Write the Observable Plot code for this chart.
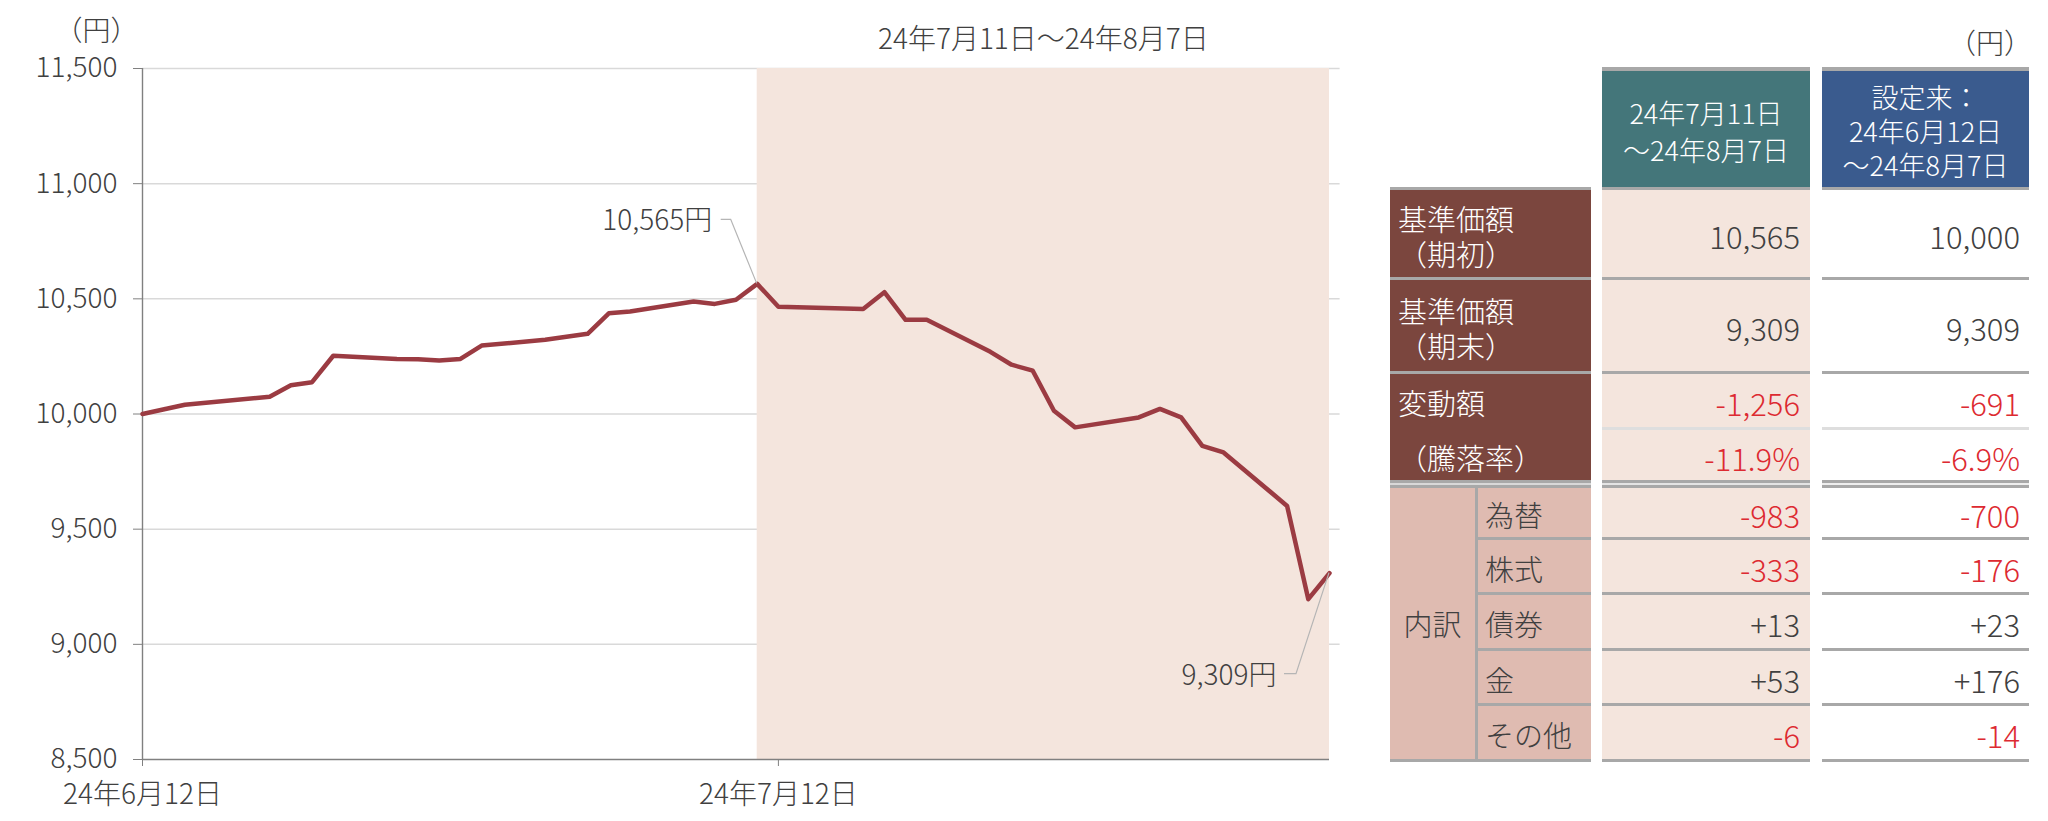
<!DOCTYPE html>
<html>
<head>
<meta charset="utf-8">
<script src="https://cdn.jsdelivr.net/npm/d3@7"></script>
<script src="https://cdn.jsdelivr.net/npm/@observablehq/plot@0.6"></script>
<style>
html, body { margin: 0; padding: 0; background: #fff; width: 2048px; height: 821px; overflow: hidden; }
body { position: relative; font-family: "Noto Sans CJK JP", "Noto Sans", sans-serif; font-weight: 300; color: #404040; }
#chart { position: absolute; left: 0; top: 0; }
#chart svg { font-weight: 300; }
#table { position: absolute; left: 0; top: 0; width: 2048px; height: 821px; }
.b { position: absolute; box-sizing: border-box; }
.t { position: absolute; box-sizing: border-box; display: flex; flex-direction: column; justify-content: center; }
.t > div { white-space: pre; line-height: 35px; }
</style>
</head>
<body>
<div id="chart"></div>
<div id="table"></div>
<script>
// ---------------- data ----------------
const dates = [
  "2024-06-12","2024-06-14","2024-06-18","2024-06-19","2024-06-20","2024-06-21",
  "2024-06-24","2024-06-25","2024-06-26","2024-06-27","2024-06-28",
  "2024-07-01","2024-07-03","2024-07-04","2024-07-05",
  "2024-07-08","2024-07-09","2024-07-10","2024-07-11","2024-07-12",
  "2024-07-16","2024-07-17","2024-07-18","2024-07-19",
  "2024-07-22","2024-07-23","2024-07-24","2024-07-25","2024-07-26",
  "2024-07-29","2024-07-30","2024-07-31","2024-08-01","2024-08-02",
  "2024-08-05","2024-08-06","2024-08-07"
];
const navValues = [
  10000, 10040, 10075, 10125, 10138, 10253,
  10239, 10238, 10232, 10239, 10297,
  10322, 10348, 10437, 10445,
  10488, 10478, 10496, 10565, 10466,
  10456, 10529, 10409, 10409,
  10270, 10214, 10188, 10014, 9942,
  9985, 10022, 9985, 9862, 9833,
  9601, 9196, 9309
];
const periodStart = "2024-07-11";
const periodEnd = "2024-08-07";
const periodTitle = "24年7月11日～24年8月7日";
const yUnit = "（円）";
const yTicks = [8500, 9000, 9500, 10000, 10500, 11000, 11500];
const xTickDates = ["2024-06-12", "2024-07-12"];
const xTickLabels = ["24年6月12日", "24年7月12日"];
const startLabel = "10,565円";
const endLabel = "9,309円";

// table data
const tableUnit = "（円）";
const colHeaders = [["24年7月11日", "～24年8月7日"], ["設定来：", "24年6月12日", "～24年8月7日"]];
const rowLabels = [["基準価額", "（期初）"], ["基準価額", "（期末）"], ["変動額"], ["（騰落率）"], ["為替"], ["株式"], ["債券"], ["金"], ["その他"]];
const breakdownLabel = "内訳";
const periodValues = [10565, 9309, -1256, -11.9, -983, -333, 13, 53, -6];
const sinceValues = [10000, 9309, -691, -6.9, -700, -176, 23, 176, -14];
const rowKinds = ["level", "level", "change", "pct", "change", "change", "change", "change", "change"];

// ---------------- chart ----------------
const FONT = '"Noto Sans CJK JP", "Noto Sans", sans-serif';
const parse = d3.utcParse("%Y-%m-%d");
const series = dates.map((d, i) => ({date: parse(d), value: navValues[i]}));
const xStart = series[0].date, xEnd = series[series.length - 1].date;
const pStart = parse(periodStart), pEnd = parse(periodEnd);
const pMid = new Date((pStart.getTime() + pEnd.getTime()) / 2);
const startPoint = series.find(d => +d.date === +pStart);
const endPoint = series[series.length - 1];

function leader(point, path) {
  return (index, scales) => {
    const px = scales.x(point.date), py = scales.y(point.value);
    const p = d3.create("svg:path")
      .attr("d", "M" + path.map(([dx, dy]) => (px + dx) + "," + (py + dy)).join("L"))
      .attr("fill", "none").attr("stroke", "#b5b5b5").attr("stroke-width", 1.2);
    return p.node();
  };
}

const chart = Plot.plot({
  width: 1360,
  height: 821,
  marginLeft: 142,
  marginRight: 31,
  marginTop: 68,
  marginBottom: 62,
  style: {fontFamily: FONT, fontSize: "28px", color: "#404040", background: "transparent", overflow: "visible"},
  x: {type: "utc", domain: [xStart, xEnd], label: null},
  y: {domain: [8500, 11500], label: null},
  marks: [
    Plot.ruleY(yTicks.slice(1), {x1: xStart, x2: d3.utcHour.offset(xEnd, 12), stroke: "#d9d9d9", strokeWidth: 1.5}),
    Plot.rect([{a: pStart, b: pEnd}], {x1: "a", x2: "b", y1: 8500, y2: 11500, fill: "#f4e5dd"}),
    Plot.ruleY([8500], {stroke: "#808080", strokeWidth: 1.6}),
    Plot.ruleX([xStart], {stroke: "#808080", strokeWidth: 1.4}),
    Plot.axisY({ticks: yTicks, tickFormat: d3.format(","), tickSize: 9, tickPadding: 16, stroke: "#808080", fill: "#404040", fontSize: 28, label: null}),
    Plot.axisX({ticks: xTickDates.map(parse), tickFormat: (d, i) => xTickLabels[i], tickSize: 7, tickPadding: 18, stroke: "#808080", fill: "#404040", fontSize: 28, label: null}),
    Plot.lineY(series, {x: "date", y: "value", stroke: "#9b3b42", strokeWidth: 4.5, strokeLinejoin: "round"}),
    leader(startPoint, [[0, 0], [-26, -64], [-36, -64]]),
    leader(endPoint, [[0, 0], [-33, 101], [-45, 101]]),
    Plot.text([startPoint], {x: "date", y: "value", text: () => startLabel, textAnchor: "end", dx: -45, dy: -63, fill: "#404040", fontSize: 28}),
    Plot.text([endPoint], {x: "date", y: "value", text: () => endLabel, textAnchor: "end", dx: -53, dy: 103, fill: "#404040", fontSize: 28}),
    Plot.text([periodTitle], {x: () => pMid, y: () => 11500, text: d => d, dy: -28, fill: "#404040", fontSize: 28}),
    Plot.text([yUnit], {frameAnchor: "top-left", text: d => d, textAnchor: "end", dx: -4, dy: -47, fill: "#404040", fontSize: 28})
  ]
});
document.getElementById("chart").appendChild(chart);

// ---------------- table ----------------
const tbl = document.getElementById("table");
function box(x0, y0, x1, y1, bg) {
  const d = document.createElement("div");
  d.className = "b";
  Object.assign(d.style, {left: x0 + "px", top: y0 + "px", width: (x1 - x0) + "px", height: (y1 - y0) + "px", background: bg});
  tbl.appendChild(d);
  return d;
}
function txt(x0, y0, x1, y1, lines, opts, lh) {
  const d = document.createElement("div");
  d.className = "t";
  Object.assign(d.style, {left: x0 + "px", top: y0 + "px", width: (x1 - x0) + "px", height: (y1 - y0) + "px"}, opts || {});
  const s = document.createElement("div");
  s.textContent = lines.join("\n");
  s.style.textAlign = opts && opts.alignItems === "center" ? "center" : (opts && opts.alignItems === "flex-end" ? "right" : "left");
  if (lh) s.style.lineHeight = lh + "px";
  d.appendChild(s);
  tbl.appendChild(d);
  return d;
}
const fmtLevel = d3.format(",");
function fmt(v, kind) {
  if (kind === "level") return fmtLevel(v);
  if (kind === "pct") return (v < 0 ? "-" : "+") + Math.abs(v).toFixed(1) + "%";
  return (v < 0 ? "-" : "+") + fmtLevel(Math.abs(v));
}

const COL = {lx0: 1390, lsub: 1475, lsub1: 1478, lx1: 1591, c1x0: 1602, c1x1: 1810, c2x0: 1822, c2x1: 2029};
const GRAY = "#a8a8a8", LIGHT = "#dedede";
const BROWN = "#7b463e", PINK = "#dfbbb1", SHADE = "#f4e5dd", TEAL = "#44767a", BLUE = "#3a5b8e";
const RED = "#dd2a31", DARK = "#404040";
const rowTop = [190, 280, 374, 430, 488, 540, 595, 651, 706];
const rowBot = [277, 371, 427, 480, 537, 592, 648, 703, 759];

// unit
txt(1800, 22, 2032, 62, [tableUnit], {alignItems: "flex-end", fontSize: "28px", color: DARK});

// headers
box(COL.c1x0, 67, COL.c1x1, 71, GRAY);
box(COL.c2x0, 67, COL.c2x1, 71, GRAY);
box(COL.c1x0, 71, COL.c1x1, 187, TEAL);
box(COL.c2x0, 71, COL.c2x1, 187, BLUE);
txt(COL.c1x0, 73, COL.c1x1, 189, colHeaders[0], {alignItems: "center", fontSize: "27px", color: "#fff"}, 37);
txt(COL.c2x0, 73, COL.c2x1, 189, colHeaders[1], {alignItems: "center", fontSize: "27px", color: "#fff"}, 34);

// backgrounds
box(COL.lx0, 190, COL.lx1, 277, BROWN);
box(COL.lx0, 280, COL.lx1, 371, BROWN);
box(COL.lx0, 374, COL.lx1, 480, BROWN);
box(COL.lx0, 488, COL.lx1, 759, PINK);
rowTop.forEach((t, i) => {
  box(COL.c1x0, t, COL.c1x1, rowBot[i], SHADE);
  box(COL.c2x0, t, COL.c2x1, rowBot[i], "#fff");
});

// separators
[187, 277, 371].forEach(y => {
  box(COL.lx0, y, COL.lx1, y + 3, GRAY);
  box(COL.c1x0, y, COL.c1x1, y + 3, GRAY);
  box(COL.c2x0, y, COL.c2x1, y + 3, GRAY);
});
box(COL.c1x0, 427, COL.c1x1, 430, LIGHT);
box(COL.c2x0, 427, COL.c2x1, 430, LIGHT);
[480, 485].forEach(y => {
  box(COL.lx0, y, COL.lx1, y + 3, GRAY);
  box(COL.c1x0, y, COL.c1x1, y + 3, GRAY);
  box(COL.c2x0, y, COL.c2x1, y + 3, GRAY);
});
box(COL.lx0, 483, COL.lx1, 485, "#d8d8d8");
box(COL.c1x0, 483, COL.c1x1, 485, "#e4e4e4");
box(COL.c2x0, 483, COL.c2x1, 485, "#eeeeee");
[537, 592, 648, 703].forEach(y => {
  box(COL.lsub1, y, COL.lx1, y + 3, GRAY);
  box(COL.c1x0, y, COL.c1x1, y + 3, GRAY);
  box(COL.c2x0, y, COL.c2x1, y + 3, GRAY);
});
box(COL.lsub, 488, COL.lsub1, 759, GRAY);
box(COL.lx0, 759, COL.lx1, 762, GRAY);
box(COL.c1x0, 759, COL.c1x1, 762, GRAY);
box(COL.c2x0, 759, COL.c2x1, 762, GRAY);

// labels and values
rowLabels.forEach((lines, i) => {
  const t = rowTop[i], b = rowBot[i];
  if (i < 4) {
    txt(COL.lx0 + 8, t + 2, COL.lx1, b + 2, lines, {alignItems: "flex-start", fontSize: "29px", color: "#fff"});
  } else {
    txt(COL.lsub1 + 7, t + 2, COL.lx1, b + 2, lines, {alignItems: "flex-start", fontSize: "29px", color: DARK});
  }
  const v1 = periodValues[i], v2 = sinceValues[i], k = rowKinds[i];
  txt(COL.c1x0, t + 2, COL.c1x1 - 10, b + 2, [fmt(v1, k)], {alignItems: "flex-end", fontSize: "31px", color: (k !== "level" && v1 < 0) ? RED : DARK});
  txt(COL.c2x0, t + 2, COL.c2x1 - 9, b + 2, [fmt(v2, k)], {alignItems: "flex-end", fontSize: "31px", color: (k !== "level" && v2 < 0) ? RED : DARK});
});
txt(COL.lx0, 488, COL.lsub, 759, [breakdownLabel], {alignItems: "center", fontSize: "29px", color: DARK});
</script>
</body>
</html>
